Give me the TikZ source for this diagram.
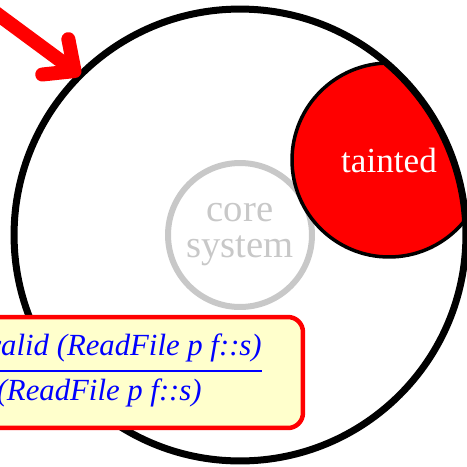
\documentclass[tikz,border=0pt]{standalone}
\usepackage{fontspec}
\setmainfont{Liberation Serif}
\usetikzlibrary{arrows.meta}
\definecolor{notepad}{RGB}{255,255,204}
\definecolor{fadegray}{RGB}{200,200,200}
\tikzset{
  systemring/.style={circle, draw=black, line width=0.14cm, minimum size=9.04cm, inner sep=0pt, outer sep=0pt},
  corering/.style={circle, draw=fadegray, line width=0.12cm, minimum size=2.88cm, inner sep=0pt,
    text=fadegray, align=center, font=\fontsize{22}{20.5}\selectfont},
  taintblob/.style={circle, fill=red, draw=black, line width=0.07cm, minimum size=3.88cm, inner sep=0pt,
    text=white, font=\fontsize{20}{24}\selectfont},
  rulebox/.style={rectangle, rounded corners=0.3cm, draw=red, fill=notepad, line width=0.09cm,
    minimum width=7.26cm, minimum height=2.22cm},
  ruletext/.style={text=blue, inner sep=0pt, anchor=base east, font=\fontsize{17.5}{21}\selectfont\itshape},
  hint/.style={draw=red, line width=0.28cm, line cap=round, line join=round,
    -{Straight Barb[length=0.48cm, width=0.88cm, round]}}
}
\begin{document}
\begin{tikzpicture}[x=0.02cm, y=-0.02cm]
    \useasboundingbox (0,0) rectangle (467,467);
    \clip (0,0) rectangle (467,467);
    \coordinate (mid) at (240,235);
    % inner ring
    \node[corering] (core) at (mid) {core\\system};
    % tainted part, cut by the outer ring
    \begin{scope}
        \clip (mid) circle (226);
        \node[taintblob] (taint) at (389,160) {tainted};
    \end{scope}
    \node[systemring] (system) at (mid) {};
    % rule
    \node[rulebox] (rule) at (121.5,372.5) {};
    \node[ruletext] (num) at (262,355) {valid (ReadFile p f::s)};
    \node[ruletext] (den) at (202,400) {(ReadFile p f::s)};
    \draw[blue, line width=0.03cm] ([yshift=-0.32cm]num.base west) -- ([yshift=-0.32cm]num.base east);
    % pointer
    \coordinate (from) at (-42,-15);
    \draw[hint] (from) -- (system.135);
\end{tikzpicture}
\end{document}
